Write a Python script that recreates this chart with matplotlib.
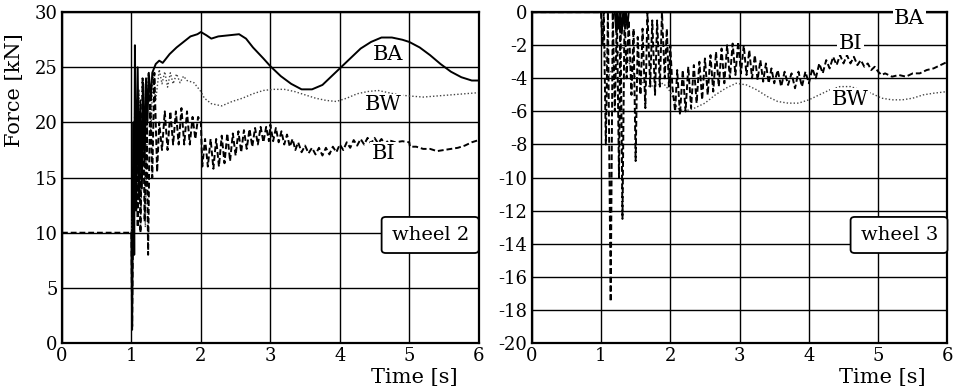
import numpy as np
import matplotlib
matplotlib.use("Agg")
import matplotlib.pyplot as plt
from matplotlib.patches import FancyBboxPatch

plt.rcParams['font.family'] = ['DejaVu Serif']
plt.rcParams['axes.unicode_minus'] = False

# wheel 2 (left panel)
w2_ba_t = [1.0, 1.01, 1.03, 1.04, 1.05, 1.07, 1.09, 1.11, 1.13, 1.15, 1.17, 1.19, 1.21, 1.23, 1.25, 1.28,
           1.30, 1.35, 1.40, 1.45, 1.55, 1.65, 1.75, 1.85, 1.95, 2.00, 2.08, 2.15, 2.25, 2.40, 2.55, 2.65,
           2.75, 2.90, 3.00, 3.15, 3.30, 3.45, 3.60, 3.75, 3.90, 4.00, 4.15, 4.30, 4.45, 4.60, 4.75, 4.90,
           5.00, 5.15, 5.30, 5.45, 5.60, 5.75, 5.90, 6.00]
w2_ba = [10, 1.5, 20, 8, 27, 12, 25, 13, 22, 14, 23.5, 16, 24, 20, 24.5, 22,
         24.5, 25.3, 25.6, 25.4, 26.2, 26.8, 27.3, 27.8, 28.0, 28.2, 27.9, 27.6, 27.8, 27.9, 28.0, 27.6,
         26.8, 25.8, 25.1, 24.2, 23.5, 23.0, 23.0, 23.4, 24.3, 24.9, 25.8, 26.7, 27.3, 27.7, 27.7, 27.5,
         27.3, 26.8, 26.1, 25.3, 24.6, 24.1, 23.8, 23.8]

w2_bw_t = [1.0, 1.02, 1.05, 1.08, 1.11, 1.14, 1.17, 1.20, 1.24, 1.28, 1.31, 1.35, 1.40, 1.44, 1.48, 1.52,
           1.56, 1.60, 1.65, 1.70, 1.75, 1.80, 1.90, 1.95, 2.00, 2.05, 2.15, 2.30, 2.45, 2.60, 2.75, 2.90,
           3.05, 3.20, 3.35, 3.50, 3.65, 3.80, 3.95, 4.10, 4.25, 4.40, 4.55, 4.70, 4.85, 5.00, 5.20, 5.40,
           5.60, 5.80, 6.00]
w2_bw = [10, 12, 22, 13, 23, 12, 24, 10.5, 24.5, 19, 24.5, 22, 24.8, 23.5, 24.6, 23.2,
         24.5, 23.5, 24.4, 23.6, 24.2, 23.8, 23.6, 23.2, 22.8, 22.2, 21.7, 21.5, 21.9, 22.2, 22.6, 22.9,
         23.0, 23.0, 22.8, 22.5, 22.2, 22.0, 21.9, 22.2, 22.6, 22.8, 22.9, 22.7, 22.5, 22.4, 22.3, 22.4,
         22.5, 22.6, 22.7]

w2_bi_t = [0, 1.00, 1.01, 1.03, 1.05, 1.07, 1.09, 1.11, 1.13, 1.16, 1.19, 1.22, 1.24, 1.27, 1.30, 1.33, 1.37,
           1.40, 1.44, 1.48, 1.52, 1.56, 1.60, 1.64, 1.68, 1.72, 1.76, 1.80, 1.84, 1.88, 1.92, 1.96, 2.00,
           2.02, 2.06, 2.10, 2.14, 2.18, 2.22, 2.26, 2.30, 2.34, 2.38, 2.42, 2.46, 2.50, 2.54, 2.58, 2.62,
           2.66, 2.70, 2.74, 2.78, 2.82, 2.86, 2.90, 2.94, 2.98, 3.00, 3.04, 3.08, 3.12, 3.16, 3.20, 3.24,
           3.28, 3.32, 3.36, 3.40, 3.45, 3.50, 3.55, 3.60, 3.65, 3.70, 3.75, 3.80, 3.85, 3.90, 3.95, 4.00,
           4.05, 4.10, 4.15, 4.20, 4.25, 4.30, 4.35, 4.40, 4.45, 4.50, 4.55, 4.60, 4.65, 4.70, 4.80, 4.90,
           5.00, 5.01, 5.10, 5.20, 5.30, 5.40, 5.50, 5.60, 5.70, 5.80, 5.90, 6.00]
w2_bi = [10, 10, 1.2, 16, 12, 22, 10.5, 21, 10, 24, 11, 20, 8, 23, 15, 24.5, 15.5,
         20, 17.5, 21, 17.5, 21, 18, 21, 18, 21.3, 18, 21, 18, 20.5, 18.5, 20.5, 20,
         16, 18.5, 16, 18.5, 15.8, 18.5, 16, 18.8, 16.3, 19, 16.5, 19, 17, 19.2, 17.3, 19.3,
         17.6, 19.4, 17.8, 19.5, 18, 19.6, 18.2, 19.6, 18.3, 19.8, 18.3, 19.5, 18.2, 19.2, 18, 18.9,
         17.8, 18.5, 17.5, 18.2, 17.3, 17.9, 17.2, 17.7, 17.1, 17.7, 17.0, 17.7, 17.1, 17.8, 17.3, 18,
         17.5, 18.2, 17.7, 18.4, 17.9, 18.5, 18.0, 18.6, 18.1, 18.6, 18.1, 18.5, 18.0, 18.4, 18.2, 18.3,
         18.2, 17.8, 17.8, 17.6, 17.6, 17.4, 17.5, 17.6, 17.7, 17.9, 18.2, 18.4]

# wheel 3 (right panel)
w3_ba_t = [0, 1.20, 1.22, 1.24, 1.26, 1.28, 1.30, 1.32, 1.34, 1.36, 1.38, 1.40, 6.00]
w3_ba = [0, 0, -1.2, 0, -1.0, 0, -1.3, 0, -0.8, 0, -1.0, 0, 0]

w3_bw_t = [0, 1.0, 1.1, 1.3, 1.5, 1.7, 1.9, 2.0, 2.1, 2.2, 2.35, 2.5, 2.65, 2.8, 2.95, 3.1, 3.25,
           3.4, 3.55, 3.7, 3.85, 4.0, 4.15, 4.3, 4.45, 4.6, 4.75, 4.9, 5.05, 5.2, 5.35, 5.5, 5.65,
           5.8, 6.0]
w3_bw = [0, 0, -4, -2, -4, -4.5, -4.3, -4.8, -5.8, -6.0, -5.8, -5.5, -5.0, -4.6, -4.3, -4.4, -4.7,
         -5.1, -5.4, -5.5, -5.5, -5.3, -5.0, -4.7, -4.5, -4.5, -4.7, -4.9, -5.2, -5.3, -5.3, -5.2, -5.0,
         -4.9, -4.8]

w3_bi_t = [0, 1.00, 1.02, 1.04, 1.07, 1.10, 1.14, 1.17, 1.20, 1.23, 1.26, 1.28, 1.31, 1.34, 1.37, 1.40,
           1.44, 1.47, 1.50, 1.53, 1.57, 1.60, 1.64, 1.67, 1.71, 1.74, 1.78, 1.81, 1.85, 1.88, 1.92, 1.95,
           1.98, 2.00, 2.03, 2.07, 2.10, 2.14, 2.18, 2.22, 2.26, 2.30, 2.34, 2.38, 2.42, 2.46, 2.50, 2.54,
           2.58, 2.62, 2.66, 2.70, 2.74, 2.78, 2.82, 2.86, 2.90, 2.94, 2.98, 3.02, 3.06, 3.10, 3.14, 3.18,
           3.22, 3.26, 3.30, 3.34, 3.38, 3.42, 3.46, 3.50, 3.55, 3.60, 3.65, 3.70, 3.75, 3.80, 3.85, 3.90,
           3.95, 4.00, 4.05, 4.10, 4.15, 4.20, 4.25, 4.30, 4.35, 4.40, 4.45, 4.50, 4.55, 4.60, 4.65, 4.70,
           4.75, 4.80, 4.85, 4.90, 4.95, 5.00, 5.05, 5.10, 5.20, 5.30, 5.40, 5.50, 5.60, 5.70, 5.80, 5.90,
           6.00]
w3_bi = [0, 0, -2, 0, -8, 0, -17.5, 0, -6, 0, -10, 0, -12.5, 0, -4, -0.5,
         -5, -1, -9, -1.5, -5, -1, -5.8, 0, -4.5, -0.5, -5, -0.5, -4.5, 0, -4, -1,
         -4.5, -2, -4.5, -6, -3.5, -6.2, -3.5, -6, -3.3, -5.8, -3.2, -5.5, -3.0, -5.3, -2.8, -5,
         -2.6, -4.8, -2.4, -4.5, -2.2, -4.3, -2.0, -4.0, -1.9, -3.8, -1.8, -3.7, -2.0, -3.8, -2.3, -4.0,
         -2.6, -4.1, -2.9, -4.2, -3.1, -4.3, -3.4, -4.3, -3.5, -4.5, -3.6, -4.4, -3.7, -4.6, -3.6, -4.5,
         -3.6, -4.3, -3.4, -4.0, -3.1, -3.7, -2.9, -3.4, -2.7, -3.2, -2.6, -3.1, -2.6, -3.1, -2.7, -3.2,
         -2.9, -3.3, -3.1, -3.5, -3.3, -3.6, -3.8, -3.7, -3.9, -3.8, -3.9, -3.7, -3.7, -3.5, -3.4, -3.2,
         -3.0]

x_ticks = [0, 1, 2, 3, 4, 5, 6]
w2_yticks = [0, 5, 10, 15, 20, 25, 30]
w3_yticks = [0, -2, -4, -6, -8, -10, -12, -14, -16, -18, -20]

fig = plt.figure(figsize=(9.58, 3.92), dpi=100)
ax1 = fig.add_axes([0.0647, 0.125, 0.435, 0.844])
ax2 = fig.add_axes([0.555, 0.125, 0.434, 0.844])

def style(ax, yticks, ylim):
    ax.set_xlim(0, 6)
    ax.set_ylim(*ylim)
    ax.set_xticks(x_ticks)
    ax.set_yticks(yticks)
    ax.set_yticklabels([str(v) for v in yticks])
    ax.grid(True, color='black', linewidth=1.0)
    ax.set_axisbelow(True)
    for s in ax.spines.values():
        s.set_linewidth(1.6)
    ax.tick_params(length=0, labelsize=13, pad=3)

def lines(ax, ba, bw, bi):
    ax.plot(*bw, color='#444444', linewidth=1.0, linestyle=(0, (1, 1.5)))
    ax.plot(*bi, color='black', linewidth=1.4, linestyle=(0, (3, 1.5)))
    ax.plot(*ba, color='black', linewidth=1.4)

def wheel_box(ax, text):
    box = FancyBboxPatch((0.767, 0.272), 0.233, 0.109, boxstyle='round,pad=0,rounding_size=0.01',
                         transform=ax.transAxes, facecolor='white', edgecolor='black',
                         linewidth=1.3, zorder=5, clip_on=False)
    ax.add_patch(box)
    ax.text(0.884, 0.326, text, transform=ax.transAxes, ha='center', va='center',
            fontsize=14, zorder=6)

lines(ax1, (w2_ba_t, w2_ba), (w2_bw_t, w2_bw), (w2_bi_t, w2_bi))
style(ax1, w2_yticks, (0, 30))
wheel_box(ax1, 'wheel 2')
lab = dict(fontsize=15, ha='center', va='center', zorder=4)
ax1.text(4.69, 26.2, 'BA', bbox=dict(facecolor='white', edgecolor='none', pad=1), **lab)
ax1.text(4.62, 21.6, 'BW', bbox=dict(facecolor='white', edgecolor='none', pad=1), **lab)
ax1.text(4.63, 17.2, 'BI', bbox=dict(facecolor='white', edgecolor='none', pad=1), **lab)
ax1.text(-0.113, 0.764, 'Force [kN]', transform=ax1.transAxes, rotation=90,
         ha='center', va='center', fontsize=15)
ax1.text(0.846, -0.103, 'Time [s]', transform=ax1.transAxes, ha='center', va='center', fontsize=15)

lines(ax2, (w3_ba_t, w3_ba), (w3_bw_t, w3_bw), (w3_bi_t, w3_bi))
style(ax2, w3_yticks, (-20, 0))
wheel_box(ax2, 'wheel 3')
ax2.text(5.45, -0.4, 'BA', bbox=dict(facecolor='white', edgecolor='none', pad=1), clip_on=False, **lab)
ax2.text(4.6, -1.9, 'BI', bbox=dict(facecolor='white', edgecolor='none', pad=1), **lab)
ax2.text(4.59, -5.26, 'BW', bbox=dict(facecolor='white', edgecolor='none', pad=1), **lab)
ax2.text(0.844, -0.103, 'Time [s]', transform=ax2.transAxes, ha='center', va='center', fontsize=15)

fig.savefig('out.png', dpi=100)
